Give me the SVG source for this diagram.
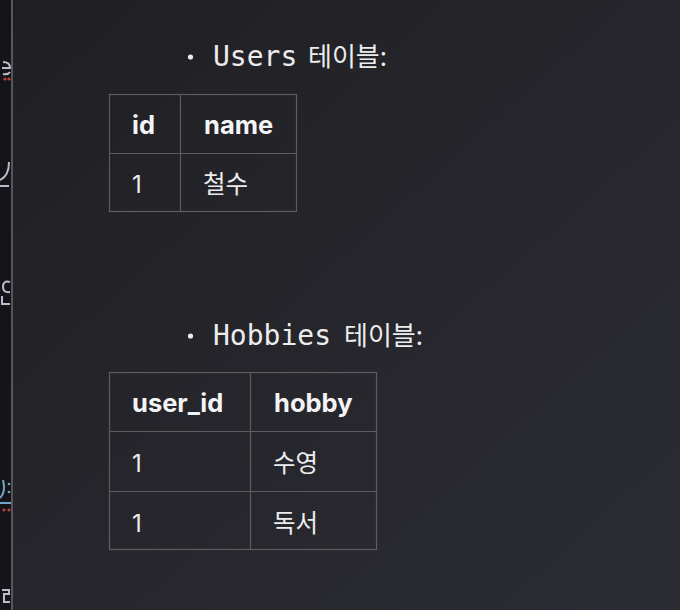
<svg xmlns="http://www.w3.org/2000/svg" width="680" height="610" viewBox="0 0 680 610">
  <defs>
    <linearGradient id="bg" x1="0" y1="0" x2="1" y2="1">
      <stop offset="0" stop-color="#1f1f23"/>
      <stop offset="1" stop-color="#2c2d34"/>
    </linearGradient>
  </defs>
  <style>
    .mono { font-family: "DejaVu Sans Mono", "Liberation Mono", monospace; font-size: 28px; fill: #ececee; }
    .kr { font-family: "Noto Sans CJK KR", "Noto Sans", sans-serif; font-size: 26px; fill: #ececee; }
    .head { font-family: Inter, "Liberation Sans", "Noto Sans CJK KR", sans-serif; font-size: 25.5px; font-weight: 700; fill: #f4f4f6; }
    .cell { font-family: Inter, "Liberation Sans", "Noto Sans CJK KR", sans-serif; font-size: 24px; fill: #ececee; }
    .cellkr { font-family: "Noto Sans CJK KR", sans-serif; font-size: 24.5px; fill: #ececee; }
    .grid { fill: none; stroke: #5c5c61; stroke-width: 1.2; }
    .frag { fill: none; stroke: #b8bccb; stroke-width: 2; }
  </style>
  <rect x="0" y="0" width="680" height="610" fill="url(#bg)"/>
  <rect x="0" y="0" width="11" height="610" fill="#141419"/>
  <rect x="11" y="0" width="2" height="610" fill="#56565b"/>
  <g id="strip-fragments">
    <path class="frag" d="M3 62 Q10 62 10 68 L2 68 M3 74 Q8 75 10 72"/>
    <circle cx="5" cy="79" r="1.6" fill="#b8413a"/>
    <circle cx="9" cy="79" r="1.6" fill="#b8413a"/>
    <path class="frag" d="M9 162 Q9 176 0 180 M0 186 L9 186"/>
    <path class="frag" d="M10 282 Q3 280 3 287 Q3 293 10 292 M2 296 L2 304 L10 304"/>
    <path class="frag" d="M3 480 Q6 492 0 498" style="stroke:#6fa7c9"/>
    <circle cx="9" cy="484" r="1.3" fill="#6fa7c9"/>
    <circle cx="9" cy="492" r="1.3" fill="#6fa7c9"/>
    <rect x="0" y="502" width="11" height="2" fill="#6fa7c9"/>
    <circle cx="4" cy="510" r="1.6" fill="#b8413a"/>
    <circle cx="9" cy="510" r="1.6" fill="#b8413a"/>
    <path class="frag" d="M2 590 L9 590 L9 594 L4 594 L4 602 L10 602"/>
  </g>

  <g id="users-title">
    <circle cx="190.5" cy="57" r="2.6" fill="#ececee"/>
    <text class="mono" x="213" y="66">Users</text>
    <text class="kr" x="308" y="66">테이블:</text>
  </g>

  <g id="users-table">
    <rect class="grid" x="109.5" y="94.5" width="187" height="117"/>
    <line class="grid" x1="180.5" y1="94.5" x2="180.5" y2="211.5"/>
    <line class="grid" x1="109.5" y1="153.5" x2="296.5" y2="153.5"/>
    <text class="head" x="132" y="134">id</text>
    <text class="head" x="204" y="134">name</text>
    <text class="cell" x="132" y="193">1</text>
    <text class="cellkr" x="203" y="193">철수</text>
  </g>

  <g id="hobbies-title">
    <circle cx="190.5" cy="336" r="2.6" fill="#ececee"/>
    <text class="mono" x="213" y="345">Hobbies</text>
    <text class="kr" x="344" y="345">테이블:</text>
  </g>

  <g id="hobbies-table">
    <rect class="grid" x="109.5" y="372.5" width="267" height="177"/>
    <line class="grid" x1="250.5" y1="372.5" x2="250.5" y2="549.5"/>
    <line class="grid" x1="109.5" y1="431.5" x2="376.5" y2="431.5"/>
    <line class="grid" x1="109.5" y1="491.5" x2="376.5" y2="491.5"/>
    <text class="head" x="132" y="412">user_id</text>
    <text class="head" x="274" y="412">hobby</text>
    <text class="cell" x="132" y="472">1</text>
    <text class="cellkr" x="273" y="472">수영</text>
    <text class="cell" x="132" y="532">1</text>
    <text class="cellkr" x="273" y="532">독서</text>
  </g>

  <g id="connectors"></g>
</svg>
